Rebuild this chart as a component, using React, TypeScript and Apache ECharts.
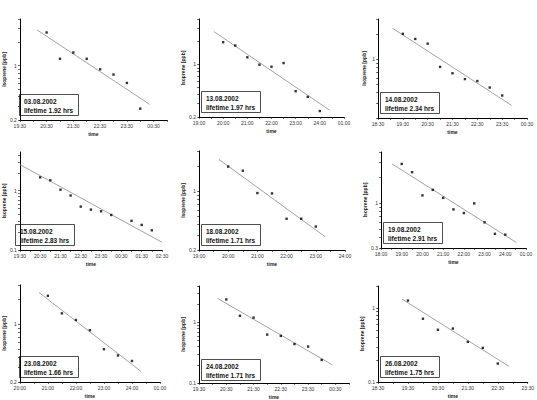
import React, { useEffect, useRef } from "react";
import * as echarts from "echarts";

// ---- data ----
const dates = ["03.08.2002", "13.08.2002", "14.08.2002", "15.08.2002", "18.08.2002", "19.08.2002", "23.08.2002", "24.08.2002", "26.08.2002"];
const lifetimes = ["1.92", "1.97", "2.34", "2.83", "1.71", "2.91", "1.66", "1.71", "1.75"];

const times1 = ["20:30", "21:00", "21:30", "22:00", "22:30", "23:00", "23:30", "00:00"];
const iso1 = [2.68, 1.23, 1.48, 1.23, 0.9, 0.77, 0.6, 0.28];
const times2 = ["20:00", "20:30", "21:00", "21:30", "22:00", "22:30", "23:00", "23:30", "24:00"];
const iso2 = [1.97, 1.78, 1.24, 0.99, 0.93, 1.04, 0.44, 0.37, 0.24];
const times3 = ["19:30", "20:00", "20:30", "21:00", "21:30", "22:00", "22:30", "23:00", "23:30"];
const iso3 = [2.0, 1.74, 1.53, 0.81, 0.68, 0.58, 0.55, 0.46, 0.37];
const times4 = ["20:30", "21:00", "21:30", "22:00", "22:30", "23:00", "23:30", "00:00", "01:00", "01:30", "02:00"];
const iso4 = [1.68, 1.5, 1.04, 0.83, 0.54, 0.48, 0.45, 0.39, 0.31, 0.265, 0.215];
const times5 = ["20:00", "20:30", "21:00", "21:30", "22:00", "22:30", "23:00"];
const iso5 = [1.96, 1.75, 0.95, 0.94, 0.47, 0.47, 0.38];
const times6 = ["19:00", "19:30", "20:00", "20:30", "21:00", "21:30", "22:00", "22:30", "23:00", "23:30", "24:00"];
const iso6 = [2.9, 2.32, 1.24, 1.44, 1.16, 0.85, 0.77, 1.0, 0.6, 0.44, 0.43];
const times7 = ["21:00", "21:30", "22:00", "22:30", "23:00", "23:30", "24:00"];
const iso7 = [2.22, 1.36, 1.13, 0.85, 0.5, 0.42, 0.36];
const times8 = ["20:30", "21:00", "21:30", "22:00", "22:30", "23:00", "23:30", "00:00"];
const iso8 = [2.4, 1.29, 1.2, 0.63, 0.6, 0.44, 0.4, 0.24];
const times9 = ["19:30", "20:00", "20:30", "21:00", "21:30", "22:00", "22:30"];
const iso9 = [1.27, 0.72, 0.51, 0.53, 0.35, 0.29, 0.178];

const allTimes = [times1, times2, times3, times4, times5, times6, times7, times8, times9];
const allIso = [iso1, iso2, iso3, iso4, iso5, iso6, iso7, iso8, iso9];

// fitted decay lines (start / end)
const fitStartTimes = ["20:09", "19:37", "19:05", "19:30", "19:41", "18:32", "20:41", "20:11", "19:18"];
const fitStartValues = [2.88, 2.72, 2.33, 2.76, 2.38, 2.9, 2.43, 2.49, 1.33];
const fitEndTimes = ["00:21", "00:25", "23:53", "02:30", "23:19", "00:32", "00:19", "00:23", "22:53"];
const fitEndValues = [0.318, 0.245, 0.282, 0.135, 0.288, 0.348, 0.27, 0.2, 0.162];

// axes
const axisStart = ["19:30", "19:00", "18:30", "19:30", "19:00", "18:00", "20:00", "19:30", "18:30"];
const axisEnd = ["01:00", "01:00", "00:30", "02:30", "24:00", "01:00", "01:00", "01:00", "23:30"];
const yMin = [0.2, 0.2, 0.2, 0.1, 0.2, 0.3, 0.2, 0.1, 0.1];
const yMax = [4, 4, 3, 4.5, 3, 4, 3, 4, 2];
const showYMinLabel = [true, true, false, true, true, true, true, true, true];

// ---- layout ----
const gridBoxes = [
  [17, 19, 150, 101],
  [199, 19, 145, 98],
  [378, 19, 149, 99],
  [13, 152, 149, 98],
  [199, 151, 146, 99],
  [381, 152, 145, 96],
  [17, 285, 143, 97],
  [199, 286, 150, 99],
  [378, 286, 150, 96],
];

const hourOf = (s: string) => {
  const [h, m] = s.split(":").map(Number);
  let v = h + m / 60;
  if (v < 12) v += 24;
  return v;
};
const clock = (hour: number) => {
  const r = Math.round(hour * 60);
  let h = Math.floor(r / 60);
  const m = r % 60;
  if (!(h === 24 && m === 0)) h = h % 24;
  return String(h).padStart(2, "0") + ":" + String(m).padStart(2, "0");
};
const fmtNum = (v: number) => String(Math.round(v * 1000) / 1000);

function buildOption() {
  const grid: any[] = [];
  const xAxis: any[] = [];
  const yAxis: any[] = [];
  const series: any[] = [];
  const graphic: any[] = [];
  const font = "Liberation Sans, Arial, sans-serif";

  for (let i = 0; i < 9; i++) {
    const [L, T, W, H] = gridBoxes[i];
    grid.push({ left: L, top: T, width: W, height: H });
    const x0 = hourOf(axisStart[i]);
    const span = hourOf(axisEnd[i]) - x0;
    const half: number[] = [];
    for (let v = 0; v <= span + 1e-9; v += 0.5) half.push(v);
    const whole: number[] = [];
    for (let v = 0; v <= span + 1e-9; v += 1) whole.push(v);

    xAxis.push({
      gridIndex: i,
      type: "value",
      min: 0,
      max: span,
      position: "bottom",
      name: "time",
      nameLocation: "middle",
      nameGap: 11,
      nameTextStyle: { fontSize: 5, fontWeight: "bold", color: "#222", fontFamily: font },
      axisLine: { onZero: false, lineStyle: { color: "#000", width: 1 } },
      axisTick: { customValues: half, length: 1.8, lineStyle: { color: "#111", width: 0.7 } },
      axisLabel: {
        customValues: whole,
        fontSize: 5,
        margin: 3,
        color: "#333",
        fontFamily: font,
        formatter: (v: number) => clock(x0 + v),
      },
      splitLine: { show: false },
    });

    const lmin = Math.log10(yMin[i]);
    const lmax = Math.log10(yMax[i]);
    const yt: number[] = [];
    for (let e = -2; e <= 1; e++) {
      for (let k = 1; k <= 9; k++) {
        const lv = Math.log10(k * Math.pow(10, e));
        if (lv >= lmin - 1e-9 && lv <= lmax + 1e-9) yt.push(lv);
      }
    }
    const ylabels = showYMinLabel[i] ? [lmin, 0] : [0];
    yAxis.push({
      gridIndex: i,
      type: "value",
      min: lmin,
      max: lmax,
      position: "left",
      name: "Isoprene [ppb]",
      nameLocation: "middle",
      nameRotate: 90,
      nameGap: 12,
      nameTextStyle: { fontSize: 5, fontWeight: "bold", color: "#222", fontFamily: font },
      axisLine: { show: true, onZero: false, lineStyle: { color: "#000", width: 1 } },
      axisTick: { show: true, customValues: yt, length: 1.8, lineStyle: { color: "#111", width: 0.7 } },
      axisLabel: {
        customValues: ylabels,
        fontSize: 5,
        margin: 3,
        color: "#333",
        fontFamily: font,
        formatter: (v: number) => fmtNum(Math.pow(10, v)),
      },
      splitLine: { show: false },
    });

    series.push({
      type: "line",
      xAxisIndex: i,
      yAxisIndex: i,
      symbol: "none",
      lineStyle: { color: "#8c8c8c", width: 0.8 },
      data: [
        [hourOf(fitStartTimes[i]) - x0, Math.log10(fitStartValues[i])],
        [hourOf(fitEndTimes[i]) - x0, Math.log10(fitEndValues[i])],
      ],
      z: 2,
    });
    series.push({
      type: "scatter",
      xAxisIndex: i,
      yAxisIndex: i,
      symbol: "rect",
      symbolSize: 2.4,
      itemStyle: { color: "#000" },
      data: allTimes[i].map((t, j) => [hourOf(t) - x0, Math.log10(allIso[i][j])]),
      z: 3,
    });

    const bx = L + 2;
    const by = T + H - 26;
    graphic.push({
      type: "group",
      z: 10,
      children: [
        {
          type: "rect",
          shape: { x: bx + 0.5, y: by + 0.5, width: 59, height: 21 },
          style: { fill: "#fff", stroke: "#222", lineWidth: 0.8 },
        },
        {
          type: "text",
          x: bx + 5,
          y: by + 3.5,
          style: { text: dates[i], font: `bold 6.5px ${font}`, fill: "#111" },
        },
        {
          type: "text",
          x: bx + 5,
          y: by + 12.5,
          style: { text: `lifetime ${lifetimes[i]} hrs`, font: `bold 6.5px ${font}`, fill: "#111" },
        },
      ],
    });
  }

  return {
    animation: false,
    backgroundColor: "#fff",
    grid,
    xAxis,
    yAxis,
    series,
    graphic,
  };
}

export default function App() {
  const ref = useRef<HTMLDivElement>(null);
  useEffect(() => {
    const chart = echarts.init(ref.current!, null, { renderer: "svg" });
    chart.setOption(buildOption() as any);
    return () => chart.dispose();
  }, []);
  return (
    <div
      ref={ref}
      style={{ position: "fixed", left: 0, top: 0, width: 537, height: 400, background: "#fff" }}
    />
  );
}
